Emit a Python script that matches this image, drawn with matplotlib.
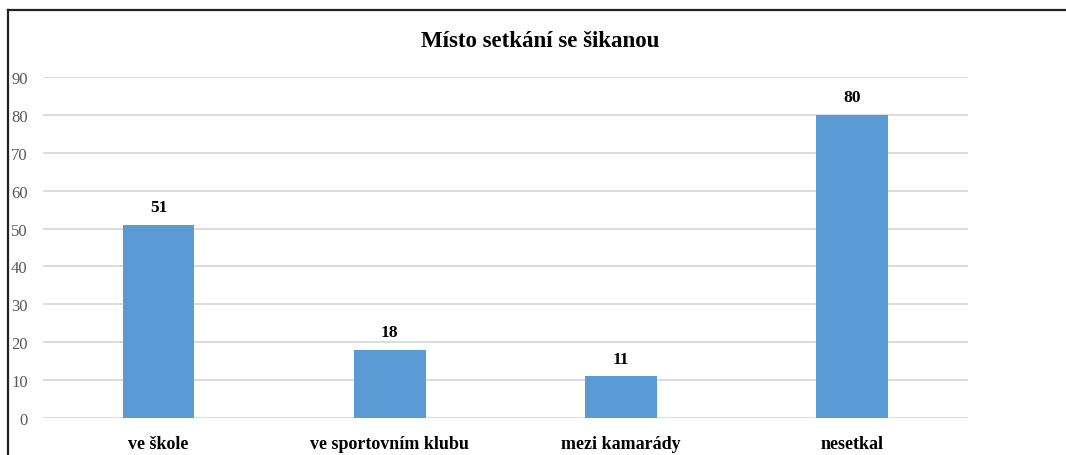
import matplotlib.pyplot as plt
from matplotlib.lines import Line2D

categories = ['ve škole', 've sportovním klubu', 'mezi kamarády', 'nesetkal']
values = [51, 18, 11, 80]
y_ticks = [0, 10, 20, 30, 40, 50, 60, 70, 80, 90]
title = 'Místo setkání se šikanou'

plt.rcParams['font.family'] = ['Liberation Serif', 'DejaVu Serif']

fig = plt.figure(figsize=(10.66, 4.56), dpi=100)
ax = fig.add_axes([0.0403, 0.0811, 0.8677, 0.7479])

x = range(len(categories))
bars = ax.bar(x, values, width=0.31, color='#5B9BD5', zorder=3)

for rect, v in zip(bars, values):
    ax.annotate(str(v), (rect.get_x() + rect.get_width() / 2, v),
                xytext=(0, 7), textcoords='offset points',
                ha='center', va='bottom', fontsize=12.5, fontweight='bold')

ax.set_xlim(-0.5, len(categories) - 0.5)
ax.set_ylim(0, 90)
ax.set_yticks(y_ticks)
ax.set_xticks(list(x))
ax.set_xticklabels(categories, fontsize=13, fontweight='bold')
ax.tick_params(axis='x', length=0, pad=12)
ax.tick_params(axis='y', length=0, pad=11, labelsize=12, labelcolor='#595959')

ax.grid(axis='y', color='#D9D9D9', linewidth=1.3, zorder=0)
for s in ax.spines.values():
    s.set_visible(False)

fig.text(0.507, 0.908, title, ha='center', va='center', fontsize=16.5, fontweight='bold')

# outer frame: only left and top edges visible
fig.add_artist(Line2D([0.0075, 0.0075], [0, 0.976], color='#222222', linewidth=1.6))
fig.add_artist(Line2D([0.0075, 1.0], [0.976, 0.976], color='#222222', linewidth=1.6))

fig.savefig('out.png', dpi=100)
